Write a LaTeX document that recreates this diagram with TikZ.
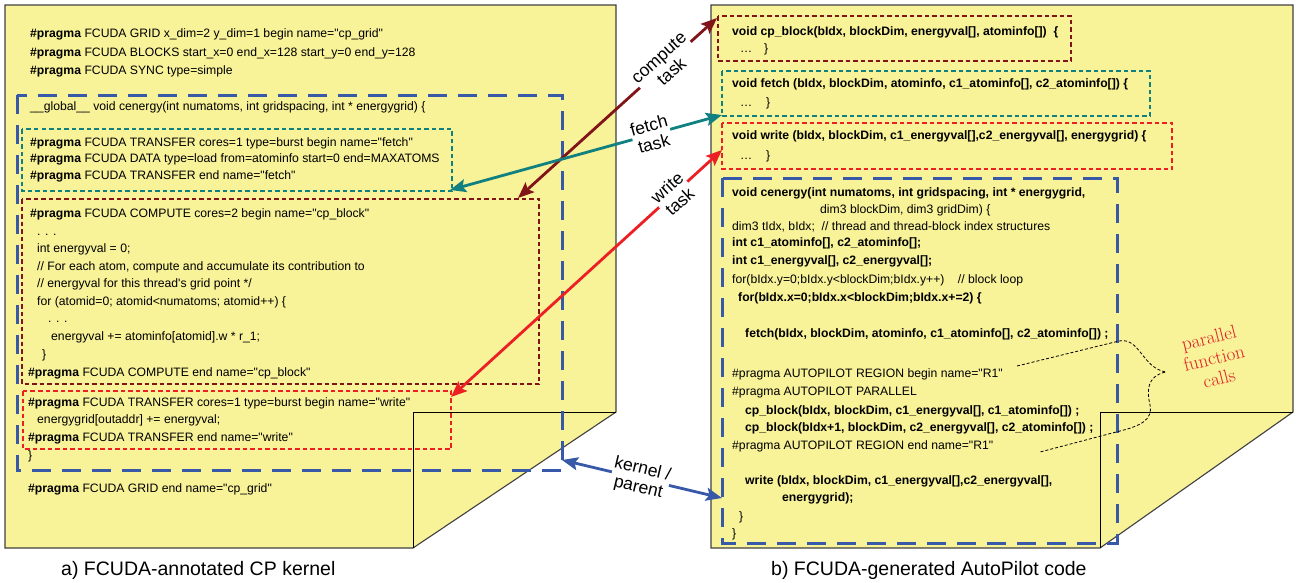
\documentclass[tikz,border=0pt]{standalone}
\usepackage{fontspec}
\newfontfamily\af{Liberation Sans}
\usetikzlibrary{arrows.meta}
\definecolor{pagey}{RGB}{248,242,152}
\definecolor{cdred}{RGB}{128,20,24}
\definecolor{cteal}{RGB}{16,128,128}
\definecolor{cred}{RGB}{236,32,36}
\definecolor{cblue}{RGB}{56,88,168}
\definecolor{cnote}{RGB}{226,30,40}
\begin{document}
\begin{tikzpicture}[x=1pt,y=-1pt,
  page/.style={fill=pagey,draw=black!75,line width=1.1pt},
  foldline/.style={draw=black,line width=1pt},
  bluedash/.style={draw=cblue,line width=3pt,dash pattern=on 19pt off 11pt},
  dotbox/.style={line width=2.7pt,dash pattern=on 4.5pt off 3pt},
  code/.style={anchor=base west,inner sep=0pt,font=\af\fontsize{12.2}{14}\selectfont},
  bcode/.style={code,font=\af\bfseries\fontsize{12.2}{14}\selectfont},
  arr/.style={line width=2.8pt,{Stealth[length=16pt,width=13pt,inset=3pt]}-{Stealth[length=16pt,width=13pt,inset=3pt]}},
  lab/.style={font=\af\fontsize{17.5}{19}\selectfont,align=center,fill=white,text=black,inner sep=0.5pt,sloped},
  capt/.style={font=\af\fontsize{19.5}{22}\selectfont,anchor=base west,inner sep=0pt},
]
\useasboundingbox (0,0) rectangle (1296,582);
% pages
\filldraw[page] (5,5) -- (616,5) -- (616,412) -- (413,548) -- (5,548) -- cycle;
\draw[foldline] (413,548) -- (413,412) -- (616,412);
\filldraw[page] (711,5) -- (1293,5) -- (1293,412) -- (1100,548) -- (711,548) -- cycle;
\draw[foldline] (1100,548) -- (1100,412) -- (1293,412);
% boxes left
\draw[bluedash] (17,95) rectangle (562,470);
\draw[dotbox,cteal] (22,129) rectangle (452,191);
\draw[dotbox,cdred] (22,199) rectangle (539,384);
\draw[dotbox,cred] (23,391) rectangle (451,449);
% boxes right
\draw[dotbox,cdred] (718,16) rectangle (1071,61);
\draw[dotbox,cteal] (722,71) rectangle (1150,116);
\draw[dotbox,cred] (722,123) rectangle (1172,169);
\draw[bluedash] (722,178) rectangle (1117,543);
% left text
\node[code] (a1) at (30,37) {\textbf{\#pragma} FCUDA GRID x\_dim=2 y\_dim=1 begin name="cp\_grid"};
\node[code] (a2) at (30,56) {\textbf{\#pragma} FCUDA BLOCKS start\_x=0 end\_x=128 start\_y=0 end\_y=128};
\node[code] (a3) at (30,74) {\textbf{\#pragma} FCUDA SYNC type=simple};
\node[code] (a4) at (30,110) {\_\_global\_\_ void cenergy(int numatoms, int gridspacing, int * energygrid) \{};
\node[code] (a5) at (30,146) {\textbf{\#pragma} FCUDA TRANSFER cores=1 type=burst begin name="fetch"};
\node[code] (a6) at (30,162) {\textbf{\#pragma} FCUDA DATA type=load from=atominfo start=0 end=MAXATOMS};
\node[code] (a7) at (30,179) {\textbf{\#pragma} FCUDA TRANSFER end name="fetch"};
\node[code] (a8) at (30,217) {\textbf{\#pragma} FCUDA COMPUTE cores=2 begin name="cp\_block"};
\node[code] (a9) at (37,235) {. . .};
\node[code] (a10) at (37,252) {int energyval = 0;};
\node[code] (a11) at (37,270) {// For each atom, compute and accumulate its contribution to};
\node[code] (a12) at (37,287) {// energyval for this thread's grid point */};
\node[code] (a13) at (37,305) {for (atomid=0; atomid<numatoms; atomid++) \{};
\node[code] (a14) at (48,322) {. . .};
\node[code] (a15) at (51,340) {energyval += atominfo[atomid].w * r\_1;};
\node[code] (a16) at (42,358) {\}};
\node[code] (a17) at (28,376) {\textbf{\#pragma} FCUDA COMPUTE end name="cp\_block"};
\node[code] (a18) at (28,406) {\textbf{\#pragma} FCUDA TRANSFER cores=1 type=burst begin name="write"};
\node[code] (a19) at (37,423) {energygrid[outaddr] += energyval;};
\node[code] (a20) at (28,441) {\textbf{\#pragma} FCUDA TRANSFER end name="write"};
\node[code] (a21) at (28,459) {\}};
\node[code] (a22) at (28,492) {\textbf{\#pragma} FCUDA GRID end name="cp\_grid"};
% right text
\node[bcode] (b1) at (732,35) {void cp\_block(bIdx, blockDim, energyval[], atominfo[])\ \ \{};
\node[code] (b2) at (740,52) {…};
\node[code] (b3) at (764,52) {\}};
\node[bcode] (b4) at (732,87) {void fetch (bIdx, blockDim, atominfo, c1\_atominfo[], c2\_atominfo[]) \{};
\node[code] (b5) at (740,106) {…};
\node[code] (b6) at (766,106) {\}};
\node[bcode] (b7) at (732,139) {void write (bIdx, blockDim, c1\_energyval[],c2\_energyval[], energygrid) \{};
\node[code] (b8) at (740,159) {…};
\node[code] (b9) at (766,159) {\}};
\node[bcode] (c1) at (732,196) {void cenergy(int numatoms, int gridspacing, int * energygrid,};
\node[code] (c2) at (820,213) {dim3 blockDim, dim3 gridDim) \{};
\node[code] (c3) at (732,230) {dim3 tIdx, bIdx;\ \ // thread and thread-block index structures};
\node[bcode] (c4) at (732,246) {int c1\_atominfo[], c2\_atominfo[];};
\node[bcode] (c5) at (732,264) {int c1\_energyval[], c2\_energyval[];};
\node[code] (c6) at (732,283) {for(bIdx.y=0;bIdx.y<blockDim;bIdx.y++)\ \ \ \ // block loop};
\node[bcode] (c7) at (738,301) {for(bIdx.x=0;bIdx.x<blockDim;bIdx.x+=2) \{};
\node[bcode] (c8) at (745,337) {fetch(bIdx, blockDim, atominfo, c1\_atominfo[], c2\_atominfo[]) ;};
\node[code] (c9) at (732,377) {\#pragma AUTOPILOT REGION begin name="R1"};
\node[code] (c10) at (732,395) {\#pragma AUTOPILOT PARALLEL};
\node[bcode] (c11) at (745,414) {cp\_block(bIdx, blockDim, c1\_energyval[], c1\_atominfo[]) ;};
\node[bcode] (c12) at (745,431) {cp\_block(bIdx+1, blockDim, c2\_energyval[], c2\_atominfo[]) ;};
\node[code] (c13) at (732,449) {\#pragma AUTOPILOT REGION end name="R1"};
\node[bcode] (c14) at (745,484) {write (bIdx, blockDim, c1\_energyval[],c2\_energyval[],};
\node[bcode] (c15) at (782,501) {energygrid);};
\node[code] (c16) at (739,520) {\}};
\node[code] (c17) at (732,537) {\}};
% brace annotation
\draw[line width=0.8pt,dash pattern=on 3pt off 2pt] (1017,366) -- (1119,341)
  .. controls (1140,337) and (1142,368) .. (1166,372)
  .. controls (1146,376) and (1147,392) .. (1150,405)
  .. controls (1153,420) and (1140,426) .. (1120,431) -- (1040,452);
\node[font=\fontsize{19}{21}\selectfont,text=cnote,align=center,rotate=14] (pfc) at (1214,358) {parallel\\function\\calls};
% captions
\node[capt] (capa) at (61,575) {a) FCUDA-annotated CP kernel};
\node[capt] (capb) at (771,575) {b) FCUDA-generated AutoPilot code};
% arrows
\coordinate (cL) at (518,198); \coordinate (cR) at (717,18);
\coordinate (fL) at (450,190); \coordinate (fR) at (722,115);
\coordinate (wL) at (451,397); \coordinate (wR) at (722,150);
\coordinate (kL) at (562,460); \coordinate (kR) at (722,498);
\draw[arr,cdred] (cL) -- node[lab,pos=0.74]{compute\\task} (cR);
\draw[arr,cteal] (fL) -- node[lab,pos=0.74]{fetch\\task} (fR);
\draw[arr,cred] (wL) -- node[lab,pos=0.82]{write\\task} (wR);
\draw[arr,cblue] (kL) -- node[lab,pos=0.49]{kernel /\\parent} (kR);
\end{tikzpicture}
\end{document}
